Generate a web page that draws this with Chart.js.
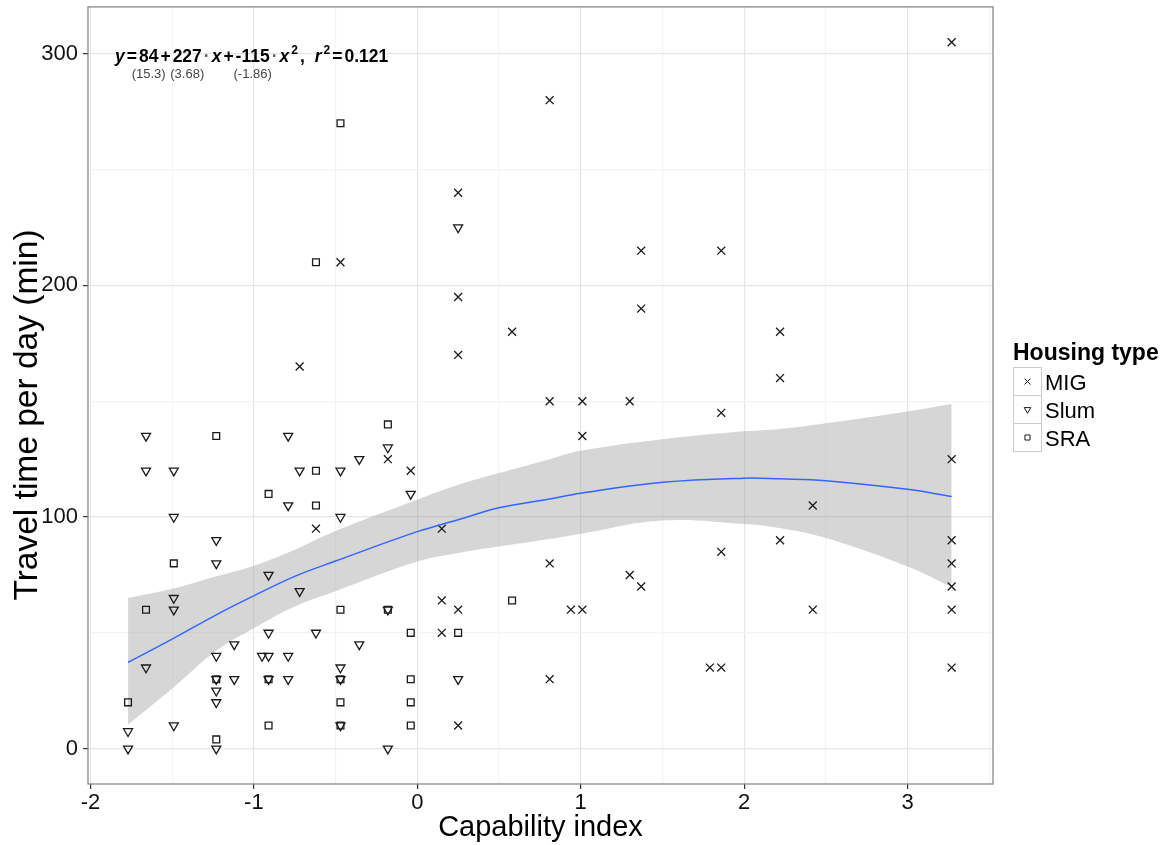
<!DOCTYPE html>
<html>
<head>
<meta charset="utf-8">
<script src="https://cdn.jsdelivr.net/npm/chart.js@4.4.0/dist/chart.umd.min.js"></script>
<style>
  html, body { margin: 0; padding: 0; background: #fff; }
  #wrap { width: 1168px; height: 845px; }
</style>
</head>
<body>
<div id="wrap"><canvas id="grafica"></canvas></div>
<script>
// ticks
const xMajor = [-2, -1, 0, 1, 2, 3];
const xMinor = [-1.5, -0.5, 0.5, 1.5, 2.5, 3.5];
const yMajor = [0, 100, 200, 300];
const yMinor = [50, 150, 250];

// MIG (x)
const migX = [-0.72, -0.62, -0.47, -0.18, -0.04, 0.15, 0.15, 0.15, 0.25, 0.25, 0.25, 0.25, 0.25, 0.58,
  0.81, 0.81, 0.81, 0.81, 0.94, 1.01, 1.01, 1.01, 1.30, 1.30, 1.37, 1.37, 1.37, 1.79,
  1.86, 1.86, 1.86, 1.86, 2.22, 2.22, 2.22, 2.42, 2.42, 3.27, 3.27, 3.27, 3.27, 3.27, 3.27, 3.27];
const migY = [165, 95, 210, 125, 120, 95, 64, 50, 240, 195, 170, 60, 10, 180,
  280, 150, 80, 30, 60, 150, 135, 60, 150, 75, 215, 190, 70, 35,
  215, 145, 85, 35, 180, 160, 90, 105, 60, 305, 125, 90, 80, 70, 60, 35];

// Slum (triangulo)
const slumX = [-1.77, -1.77, -1.66, -1.66, -1.66, -1.49, -1.49, -1.49, -1.49, -1.49,
  -1.23, -1.23, -1.23, -1.23, -1.23, -1.23, -1.23, -1.12, -1.12, -0.95,
  -0.91, -0.91, -0.91, -0.91, -0.79, -0.79, -0.79, -0.79, -0.72, -0.72, -0.62,
  -0.47, -0.47, -0.47, -0.47, -0.47, -0.355, -0.355, -0.18, -0.18, -0.18, -0.04, 0.25, 0.25];
const slumY = [7.5, 0, 135, 120, 35, 120, 100, 65, 60, 10,
  90, 80, 40, 30, 25, 20, 0, 45, 30, 40,
  75, 50, 40, 30, 135, 105, 40, 30, 120, 68, 50,
  120, 100, 35, 30, 10, 125, 45, 130, 60, 0, 110, 225, 30];

// SRA (cuadro)
const sraX = [-1.77, -1.66, -1.49, -1.23, -1.23, -1.23, -0.91, -0.91, -0.91, -0.62, -0.62, -0.62,
  -0.47, -0.47, -0.47, -0.47, -0.47, -0.18, -0.18, -0.04, -0.04, -0.04, -0.04, 0.25, 0.58];
const sraY = [20, 60, 80, 135, 30, 4, 110, 30, 10, 210, 120, 105,
  270, 60, 30, 20, 10, 140, 60, 50, 30, 20, 10, 50, 64];

// curva ajustada y banda
const fitX  = [-1.77, -1.5, -1.23, -1.0, -0.75, -0.5, 0, 0.25, 0.5, 0.81, 1.0, 1.5, 2.0, 2.22, 2.5, 3.0, 3.27];
const fitY  = [37.3, 47.3, 57.8, 66, 74.4, 81, 93.7, 98.8, 104, 107.8, 110.3, 115, 116.8, 116.5, 115.7, 112, 108.9];
const fitLo = [10.4, 26, 42.3, 52, 61.4, 68, 80.8, 84.5, 87.3, 90.5, 92.8, 98.5, 97, 95.2, 91, 78.7, 69.8];
const fitHi = [65, 69, 74.4, 79, 85.9, 94, 107.5, 113.9, 119, 125, 128.6, 133.6, 137, 138, 140.5, 145.6, 148.8];

const FONT = "'Liberation Sans', Arial, sans-serif";
Chart.defaults.font.family = FONT;

const pts = (xs, ys) => xs.map((x, i) => ({ x: x, y: ys[i] }));

function puntos(label, xs, ys, style, radius, rot) {
  return {
    label: label,
    data: pts(xs, ys),
    showLine: false,
    pointStyle: style,
    pointRadius: radius,
    pointRotation: rot,
    pointBorderColor: '#1a1a1a',
    pointBackgroundColor: 'rgba(0,0,0,0)',
    pointBorderWidth: 1.3,
    pointHoverRadius: radius,
    order: 2
  };
}

// borde del panel + titulo del eje y
const bordePanel = {
  id: 'bordePanel',
  afterDraw(chart) {
    const { ctx, chartArea: a } = chart;
    ctx.save();
    ctx.strokeStyle = '#7f7f7f';
    ctx.lineWidth = 1.2;
    ctx.strokeRect(a.left, a.top, a.right - a.left, a.bottom - a.top);
    ctx.translate(28, 415);
    ctx.rotate(-Math.PI / 2);
    ctx.font = '33.5px ' + FONT;
    ctx.fillStyle = '#000';
    ctx.textAlign = 'center';
    ctx.textBaseline = 'middle';
    ctx.fillText('Travel time per day (min)', 0, 0);
    ctx.restore();
  }
};

// leyenda a mano
const leyenda = {
  id: 'leyenda',
  afterDraw(chart) {
    const ctx = chart.ctx;
    const items = [
      { t: 'MIG', style: 'crossRot', r: 4.2, rot: 0 },
      { t: 'Slum', style: 'triangle', r: 3.8, rot: 180 },
      { t: 'SRA', style: 'rect', r: 3.6, rot: 0 }
    ];
    ctx.save();
    ctx.fillStyle = '#000';
    ctx.textBaseline = 'alphabetic';
    ctx.font = 'bold 23px ' + FONT;
    ctx.fillText('Housing type', 1013, 360);
    items.forEach((it, i) => {
      const top = 367 + i * 28;
      ctx.strokeStyle = '#cccccc';
      ctx.lineWidth = 1;
      ctx.strokeRect(1013.5, top + 0.5, 28, 28);
      ctx.strokeStyle = '#1a1a1a';
      ctx.fillStyle = 'rgba(0,0,0,0)';
      Chart.helpers.drawPoint(ctx, { pointStyle: it.style, rotation: it.rot, radius: it.r, borderWidth: 1.1 }, 1027.5, top + 14.5);
      ctx.fillStyle = '#000';
      ctx.font = '22px ' + FONT;
      ctx.fillText(it.t, 1045, top + 23);
    });
    ctx.restore();
  }
};

// ecuacion del ajuste
const ecuacion = {
  id: 'ecuacion',
  afterDraw(chart) {
    const ctx = chart.ctx;
    const segs = [
      { t: 'y', it: true }, { t: '=' }, { t: '84', se: '(15.3)' }, { t: '+' }, { t: '227', se: '(3.68)' },
      { t: '\u00b7', gray: true }, { t: 'x', it: true }, { t: '+' }, { t: '-115', se: '(-1.86)' },
      { t: '\u00b7', gray: true }, { t: 'x', it: true }, { t: '2', sup: true }, { t: ',' },
      { t: 'r', it: true, gap: 8 }, { t: '2', sup: true }, { t: '=' }, { t: '0.121' }
    ];
    let x = 115;
    const base = 62;
    ctx.save();
    ctx.textBaseline = 'alphabetic';
    const debajo = [];
    segs.forEach(s => {
      if (s.gap) x += s.gap;
      const size = s.sup ? 12 : 17.5;
      ctx.font = (s.it ? 'italic ' : '') + 'bold ' + size + 'px ' + FONT;
      ctx.fillStyle = s.gray ? '#666' : '#000';
      const w = ctx.measureText(s.t).width;
      ctx.fillText(s.t, x, s.sup ? base - 8 : base);
      if (s.se) debajo.push({ t: s.se, c: x + w / 2 });
      x += w + 2;
    });
    ctx.font = '13px ' + FONT;
    ctx.fillStyle = '#444';
    ctx.textAlign = 'center';
    debajo.forEach(d => ctx.fillText(d.t, d.c, 78));
    ctx.restore();
  }
};

const ctx = document.getElementById('grafica').getContext('2d');
new Chart(ctx, {
  type: 'line',
  data: {
    datasets: [
      {
        label: 'hi', data: pts(fitX, fitHi), borderWidth: 0, borderColor: 'rgba(0,0,0,0)',
        pointRadius: 0, fill: '+1', backgroundColor: 'rgba(153,153,153,0.4)', tension: 0.4, order: 5
      },
      {
        label: 'lo', data: pts(fitX, fitLo), borderWidth: 0, borderColor: 'rgba(0,0,0,0)',
        pointRadius: 0, fill: false, tension: 0.4, order: 4
      },
      puntos('MIG', migX, migY, 'crossRot', 5.6, 0),
      puntos('Slum', slumX, slumY, 'triangle', 5.2, 180),
      puntos('SRA', sraX, sraY, 'rect', 4.8, 0),
      {
        label: 'fit', data: pts(fitX, fitY), borderColor: '#3366FF', borderWidth: 1.5,
        pointRadius: 0, fill: false, tension: 0.4, order: 1
      }
    ]
  },
  options: {
    responsive: true,
    maintainAspectRatio: false,
    animation: false,
    events: [],
    layout: { padding: { left: 0, right: 175, top: 5, bottom: 0 } },
    plugins: { legend: { display: false }, tooltip: { enabled: false } },
    scales: {
      x: {
        type: 'linear', min: -2.015, max: 3.523,
        afterBuildTicks: s => { s.ticks = [...xMajor, ...xMinor].sort((a, b) => a - b).map(v => ({ value: v })); },
        afterFit: s => { s.height = 61; s.paddingLeft = 0; s.paddingRight = 0; },
        border: { display: false },
        grid: {
          color: c => xMajor.includes(c.tick && c.tick.value) ? '#e6e6e6' : '#f4f4f4',
          lineWidth: 1.2,
          tickColor: c => xMajor.includes(c.tick && c.tick.value) ? '#333' : 'rgba(0,0,0,0)',
          tickLength: 5
        },
        ticks: {
          autoSkip: false, maxRotation: 0, padding: 1, color: '#111',
          font: { size: 22 },
          callback: v => xMajor.includes(v) ? String(v) : ''
        },
        title: { display: true, text: 'Capability index', color: '#000', font: { size: 29 }, padding: { top: 0, bottom: 0 } }
      },
      y: {
        type: 'linear', min: -15.25, max: 320.25,
        afterBuildTicks: s => { s.ticks = [...yMajor, ...yMinor].sort((a, b) => a - b).map(v => ({ value: v })); },
        afterFit: s => { s.width = 88; s.paddingTop = 0; s.paddingBottom = 0; },
        border: { display: false },
        grid: {
          color: c => yMajor.includes(c.tick && c.tick.value) ? '#e6e6e6' : '#f4f4f4',
          lineWidth: 1.2,
          tickColor: c => yMajor.includes(c.tick && c.tick.value) ? '#333' : 'rgba(0,0,0,0)',
          tickLength: 5
        },
        ticks: {
          autoSkip: false, padding: 5, color: '#111',
          font: { size: 22 },
          callback: v => yMajor.includes(v) ? String(v) : ''
        },
        title: { display: false }
      }
    }
  },
  plugins: [bordePanel, leyenda, ecuacion]
});
</script>
</body>
</html>
